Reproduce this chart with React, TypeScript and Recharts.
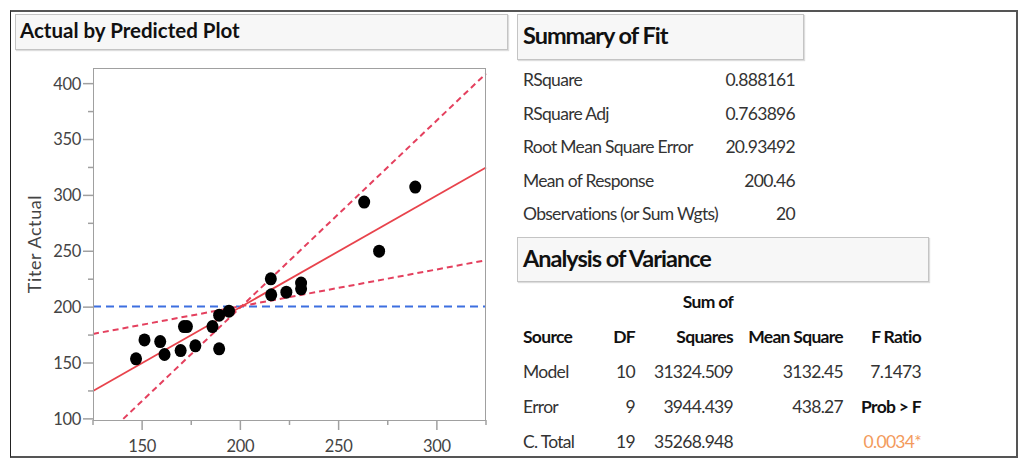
import React from "react";
import { ScatterChart, Scatter, XAxis, YAxis, ReferenceLine } from "recharts";

// actual vs predicted titer
const predicted = [146.9, 151.2, 159.2, 161.4, 169.6, 171.3, 172.8, 177.1, 185.8, 189.2, 189.2, 194.2, 215.5, 215.7, 223.4, 230.9, 230.9, 263.0, 270.6, 289.0];
const actual = [153.7, 170.7, 169.2, 157.6, 161.1, 182.6, 182.6, 165.4, 182.6, 162.7, 192.8, 196.4, 225.3, 211.0, 213.4, 221.5, 216.4, 294.0, 250.1, 307.4];

// lines: fit (y = x), two significance lines crossing at the mean, mean of response
const fitLine = [[125, 125], [325, 325]];
const steepLine = [[140.4, 100], [325, 409]];
const shallowLine = [[125, 176], [325, 242]];
const meanResponse = 200.46;

const xMajor = [150, 200, 250, 300];
const xTicks = [125, 150, 175, 200, 225, 250, 275, 300, 325];
const yMajor = [100, 150, 200, 250, 300, 350, 400];
const yTicks = [100, 125, 150, 175, 200, 225, 250, 275, 300, 325, 350, 375, 400];

const summaryLabels = ["RSquare", "RSquare Adj", "Root Mean Square Error", "Mean of Response", "Observations (or Sum Wgts)"];
const summaryValues = ["0.888161", "0.763896", "20.93492", "200.46", "20"];

const anovaSource = ["Model", "Error", "C. Total"];
const anovaDF = ["10", "9", "19"];
const anovaSS = ["31324.509", "3944.439", "35268.948"];
const anovaMS = ["3132.45", "438.27", ""];
const anovaF = ["7.1473", "Prob > F", "0.0034*"];

const FONT = "Lato, 'Open Sans', sans-serif";
const AXIS = "#a0a0a0";
const TICK_LEN = 10;
const MINOR_LEN = 5;
const Y_GAP = 2;
const X_GAP = 10;

const seg = (l: number[][]) => l.map(([x, y]) => ({ x, y }));

function YTick(props: any) {
  const { x, y, payload } = props;
  const ax = x + TICK_LEN + Y_GAP;
  const major = yMajor.includes(payload.value);
  return (
    <g>
      <line x1={ax - (major ? TICK_LEN : MINOR_LEN)} x2={ax} y1={y} y2={y} stroke={AXIS} strokeWidth={1.5} />
      {major && (
        <text x={x} y={y} dy="0.36em" textAnchor="end" fill="#444" fontSize={16.5} letterSpacing={-0.3} fontFamily={FONT}>
          {payload.value}
        </text>
      )}
    </g>
  );
}

function XTick(props: any) {
  const { x, y, payload } = props;
  const ay = y - TICK_LEN - X_GAP;
  const major = xMajor.includes(payload.value);
  return (
    <g>
      <line x1={x} x2={x} y1={ay} y2={ay + (major ? TICK_LEN : MINOR_LEN)} stroke={AXIS} strokeWidth={1.5} />
      {major && (
        <text x={x} y={y} dy="0.71em" textAnchor="middle" fill="#444" fontSize={16.5} letterSpacing={-0.3} fontFamily={FONT}>
          {payload.value}
        </text>
      )}
    </g>
  );
}

const Dot = (p: any) => <ellipse cx={p.cx} cy={p.cy} rx={6} ry={6.5} fill="#000" />;

const box = (left: number, top: number, width: number, height: number): React.CSSProperties => ({
  position: "absolute",
  left,
  top,
  width,
  height,
  boxSizing: "border-box",
  background: "#f7f7f7",
  border: "1.5px solid #c4c4c4",
  boxShadow: "1px 1px 1px #ddd",
});

const cell = (top: number, edge: number, align: "left" | "right", extra: React.CSSProperties = {}): React.CSSProperties => ({
  position: "absolute",
  top: top - 11,
  height: 22,
  lineHeight: "22px",
  whiteSpace: "nowrap",
  fontSize: 17.5,
  letterSpacing: -0.7,
  color: "#333",
  ...(align === "left" ? { left: edge } : { right: 1028 - edge }),
  ...extra,
});

const heading: React.CSSProperties = { position: "absolute", left: 5, top: 6, fontSize: 23.5, letterSpacing: -1, fontWeight: 700, color: "#111", whiteSpace: "nowrap" };

export default function App() {
  const data = predicted.map((p, i) => ({ x: p, y: actual[i] }));
  const bold = { fontWeight: 700, color: "#111" };
  const cols = [635, 733, 843, 921];

  return (
    <div style={{ position: "absolute", left: 0, top: 0, width: 1028, height: 461, background: "#fff", overflow: "hidden", fontFamily: FONT }}>
      <div style={{ position: "absolute", left: 10, top: 10, width: 1008, height: 448, boxSizing: "border-box", borderTop: "2px solid #555", borderRight: "2px solid #555", borderBottom: "2px solid #555", borderLeft: "1.5px solid #222" }} />

      <div style={box(15, 14, 493, 36)}>
        <div style={{ position: "absolute", left: 4, top: 3, fontSize: 20.5, fontWeight: 700, color: "#111", whiteSpace: "nowrap" }}>Actual by Predicted Plot</div>
      </div>

      <div style={{ position: "absolute", left: 0, top: 0 }}>
        <ScatterChart width={500} height={461} margin={{ top: 68, right: 14, bottom: 6, left: 20 }}>
          <XAxis
            type="number"
            dataKey="x"
            domain={[125, 325]}
            ticks={xTicks}
            interval={0}
            axisLine={false}
            tickLine={false}
            tickSize={TICK_LEN}
            tickMargin={X_GAP}
            height={35}
            tick={<XTick />}
          />
          <YAxis
            type="number"
            dataKey="y"
            domain={[99, 414]}
            ticks={yTicks}
            interval={0}
            axisLine={false}
            tickLine={false}
            tickSize={TICK_LEN}
            tickMargin={Y_GAP}
            width={73}
            tick={<YTick />}
            label={{ value: "Titer Actual", angle: -90, position: "insideLeft", offset: 15, style: { textAnchor: "middle", fill: "#444", fontSize: 18, letterSpacing: 0.6, fontFamily: FONT } }}
          />
          <ReferenceLine y={meanResponse} stroke="#3d6fe0" strokeWidth={2} strokeDasharray="8 5" />
          <ReferenceLine segment={seg(shallowLine)} stroke="#e4405e" strokeWidth={2} strokeDasharray="6 4" />
          <ReferenceLine segment={seg(steepLine)} stroke="#e4405e" strokeWidth={2} strokeDasharray="6 4" />
          <ReferenceLine segment={seg(fitLine)} stroke="#e8434c" strokeWidth={1.8} />
          <Scatter data={data} shape={Dot} isAnimationActive={false} />
        </ScatterChart>
      </div>
      <div style={{ position: "absolute", left: 93, top: 68, width: 393, height: 353, boxSizing: "border-box", border: `1.5px solid ${AXIS}`, pointerEvents: "none" }} />

      <div style={box(517, 14, 287, 46)}>
        <div style={heading}>Summary of Fit</div>
      </div>
      {summaryLabels.map((l, i) => (
        <React.Fragment key={l}>
          <div style={cell(80 + i * 33.5, 523, "left")}>{l}</div>
          <div style={cell(80 + i * 33.5, 795, "right")}>{summaryValues[i]}</div>
        </React.Fragment>
      ))}

      <div style={box(517, 237, 412, 45)}>
        <div style={heading}>Analysis of Variance</div>
      </div>
      <div style={cell(302, 733, "right", bold)}>Sum of</div>
      <div style={cell(337, 523, "left", bold)}>Source</div>
      {["DF", "Squares", "Mean Square", "F Ratio"].map((h, j) => (
        <div key={h} style={cell(337, cols[j], "right", bold)}>{h}</div>
      ))}
      {anovaSource.map((s, i) => {
        const y = 372 + i * 35;
        const f = anovaF[i];
        const fStyle = i === 1 ? bold : i === 2 ? { color: "#f39a5c" } : {};
        return (
          <React.Fragment key={s}>
            <div style={cell(y, 523, "left")}>{s}</div>
            <div style={cell(y, cols[0], "right")}>{anovaDF[i]}</div>
            <div style={cell(y, cols[1], "right")}>{anovaSS[i]}</div>
            <div style={cell(y, cols[2], "right")}>{anovaMS[i]}</div>
            <div style={cell(y, cols[3], "right", fStyle)}>{f}</div>
          </React.Fragment>
        );
      })}
    </div>
  );
}
